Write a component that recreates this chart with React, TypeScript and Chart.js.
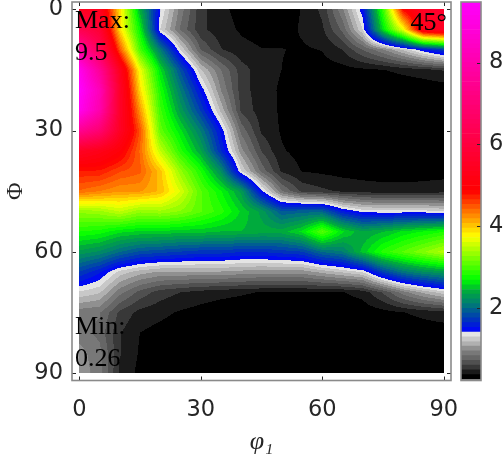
import React, { useEffect, useRef } from "react";
import { Chart, registerables } from "chart.js";

Chart.register(...registerables);

const phi1Nodes = [0, 5, 10, 15, 20, 25, 30, 35, 40, 45, 50, 55, 60, 65, 70, 75, 80, 85, 90];
const bigPhiNodes = [0, 5, 10, 15, 20, 25, 30, 35, 40, 45, 50, 55, 60, 65, 70, 75, 80, 85, 90];

const row00 = [5.4, 5.4, 3.9, 2.4, 1.42, 0.9, 0.53, 0.4, 0.34, 0.3, 0.32, 0.38, 0.52, 0.93, 1.5, 2.9, 4.85, 5.5, 5.7];
const row05 = [6.3, 5.8, 3.9, 2.7, 1.3, 0.82, 0.52, 0.42, 0.36, 0.33, 0.32, 0.39, 0.47, 0.75, 1.3, 2.6, 3.7, 5.3, 5.5];
const row10 = [7.8, 6.4, 4.5, 3.0, 2.1, 1.3, 0.72, 0.5, 0.41, 0.38, 0.38, 0.36, 0.38, 0.49, 0.72, 0.93, 1.2, 1.5, 1.75];
const row15 = [9.2, 7.6, 5.4, 3.7, 2.6, 1.85, 1.2, 0.84, 0.55, 0.42, 0.375, 0.33, 0.32, 0.33, 0.35, 0.37, 0.41, 0.45, 0.5];
const row20 = [9.5, 8.2, 5.6, 3.9, 2.8, 2.1, 1.5, 0.95, 0.55, 0.42, 0.36, 0.3, 0.28, 0.27, 0.27, 0.27, 0.27, 0.28, 0.3];
const row25 = [9.2, 8.0, 5.6, 4.2, 2.95, 2.3, 1.75, 1.15, 0.58, 0.43, 0.36, 0.28, 0.27, 0.27, 0.27, 0.27, 0.27, 0.27, 0.28];
const row30 = [7.5, 6.9, 5.5, 4.5, 3.1, 2.6, 2.1, 1.5, 0.8, 0.47, 0.36, 0.3, 0.28, 0.27, 0.27, 0.27, 0.27, 0.27, 0.28];
const row35 = [5.5, 5.3, 5.0, 4.4, 3.5, 2.85, 2.35, 1.65, 1.0, 0.6, 0.39, 0.33, 0.3, 0.28, 0.27, 0.27, 0.27, 0.28, 0.28];
const row40 = [4.75, 4.75, 4.55, 4.45, 4.0, 3.3, 2.8, 2.2, 1.3, 0.8, 0.47, 0.37, 0.35, 0.33, 0.32, 0.32, 0.32, 0.33, 0.33];
const row45 = [4.4, 4.3, 4.2, 4.2, 4.05, 3.6, 3.05, 2.7, 2.3, 1.45, 0.85, 0.58, 0.52, 0.47, 0.44, 0.42, 0.42, 0.42, 0.44];
const row50 = [3.3, 3.35, 3.5, 3.3, 3.35, 3.25, 3.05, 2.85, 2.55, 2.3, 1.9, 1.95, 1.95, 1.55, 1.38, 1.35, 1.35, 1.35, 1.3];
const row55 = [2.8, 2.75, 2.6, 2.55, 2.55, 2.5, 2.5, 2.45, 2.45, 2.4, 2.4, 2.6, 3.05, 2.6, 2.35, 2.45, 2.6, 2.7, 2.8];
const row60 = [2.3, 2.2, 2.0, 1.85, 1.8, 1.75, 1.7, 1.7, 1.65, 1.65, 1.7, 1.75, 2.0, 2.1, 2.5, 2.85, 3.05, 3.25, 3.45];
const row65 = [1.75, 1.55, 1.25, 1.12, 1.05, 1.05, 1.05, 1.05, 1.02, 1.0, 1.0, 1.0, 1.1, 1.2, 1.3, 1.75, 2.05, 2.2, 2.3];
const row70 = [1.28, 1.2, 0.88, 0.68, 0.55, 0.49, 0.44, 0.41, 0.39, 0.37, 0.36, 0.365, 0.37, 0.37, 0.42, 0.62, 0.9, 1.1, 1.25];
const row75 = [0.88, 0.85, 0.58, 0.45, 0.41, 0.36, 0.33, 0.31, 0.3, 0.29, 0.28, 0.28, 0.28, 0.29, 0.3, 0.33, 0.37, 0.41, 0.45];
const row80 = [0.9, 0.8, 0.5, 0.375, 0.33, 0.3, 0.29, 0.28, 0.28, 0.27, 0.27, 0.27, 0.27, 0.27, 0.27, 0.28, 0.29, 0.3, 0.3];
const row85 = [1.0, 0.88, 0.5, 0.36, 0.3, 0.28, 0.27, 0.27, 0.27, 0.27, 0.27, 0.27, 0.27, 0.27, 0.27, 0.27, 0.27, 0.27, 0.27];
const row90 = [1.02, 0.9, 0.47, 0.34, 0.29, 0.27, 0.27, 0.27, 0.26, 0.26, 0.26, 0.26, 0.26, 0.26, 0.26, 0.26, 0.26, 0.26, 0.26];
const odfRows = [row00, row05, row10, row15, row20, row25, row30, row35, row40, row45, row50, row55, row60, row65, row70, row75, row80, row85, row90];

const axisTicks = [0, 30, 60, 90];
const barTicks = [2, 4, 6, 8];
const minValue = 0.26;
const maxValue = 9.5;
const bandCount = 80;
const grayShades = [0, 26, 56, 80, 102, 120, 144, 176, 200, 228];
const colorStops: [number, number, number, number][] = [
  [1.415, 0, 0, 255],
  [1.7, 0, 50, 190],
  [2.07, 0, 120, 120],
  [2.4, 0, 170, 60],
  [2.7, 0, 255, 0],
  [3.75, 255, 255, 0],
  [4.85, 255, 0, 0],
  [9.5, 255, 0, 255],
];
const annotations: [string, number, number, CanvasTextAlign][] = [
  ["Max:", 75, 28, "left"],
  ["9.5", 75, 60, "left"],
  ["Min:", 75, 334, "left"],
  ["0.26", 75, 366, "left"],
  ["45°", 447, 30, "right"],
];

const TEXT = "#262626";
const BOX = "#8a8a8a";
const SANS = '"DejaVu Sans", sans-serif';
const SERIF = '"Liberation Serif", "DejaVu Serif", serif';

const step = (maxValue - minValue) / bandCount;

function bandRgb(i: number): [number, number, number] {
  if (i < grayShades.length) {
    const g = grayShades[i];
    return [g, g, g];
  }
  const v = minValue + step * (i + 0.5);
  for (let k = 1; k < colorStops.length; k++) {
    const a = colorStops[k - 1];
    const b = colorStops[k];
    if (v <= b[0]) {
      const t = Math.max(0, (v - a[0]) / (b[0] - a[0]));
      return [a[1] + (b[1] - a[1]) * t, a[2] + (b[2] - a[2]) * t, a[3] + (b[3] - a[3]) * t];
    }
  }
  return [255, 0, 255];
}

function lookup(phi1: number, phi: number) {
  const gx = Math.min(phi1Nodes.length - 1.001, Math.max(0, phi1 / 5));
  const gy = Math.min(bigPhiNodes.length - 1.001, Math.max(0, phi / 5));
  const ix = Math.floor(gx);
  const iy = Math.floor(gy);
  const fx = gx - ix;
  const fy = gy - iy;
  return (
    odfRows[iy][ix] * (1 - fx) * (1 - fy) +
    odfRows[iy][ix + 1] * fx * (1 - fy) +
    odfRows[iy + 1][ix] * (1 - fx) * fy +
    odfRows[iy + 1][ix + 1] * fx * fy
  );
}

const contourPlugin = {
  id: "odfContour",
  beforeDatasetsDraw(chart: any) {
    const { ctx, scales } = chart;
    const x = scales.x;
    const y = scales.y;
    const x0 = x.getPixelForValue(0);
    const x1 = x.getPixelForValue(90);
    const y0 = y.getPixelForValue(0);
    const y1 = y.getPixelForValue(90);
    const ss = 2;
    const w = Math.round((x1 - x0) * ss);
    const h = Math.round((y1 - y0) * ss);
    const off = document.createElement("canvas");
    off.width = w;
    off.height = h;
    const octx = off.getContext("2d")!;
    const img = octx.createImageData(w, h);
    for (let j = 0; j < h; j++) {
      const phi = y.getValueForPixel(y0 + (j + 0.5) / ss);
      for (let i = 0; i < w; i++) {
        const phi1 = x.getValueForPixel(x0 + (i + 0.5) / ss);
        const v = lookup(phi1, phi);
        const band = Math.max(0, Math.min(bandCount - 1, Math.floor((v - minValue) / step)));
        const c = bandRgb(band);
        const p = (j * w + i) * 4;
        img.data[p] = c[0];
        img.data[p + 1] = c[1];
        img.data[p + 2] = c[2];
        img.data[p + 3] = 255;
      }
    }
    octx.putImageData(img, 0, 0);
    ctx.save();
    ctx.imageSmoothingEnabled = true;
    ctx.drawImage(off, x0, y0, x1 - x0, y1 - y0);
    ctx.restore();
  },
  afterDraw(chart: any) {
    const { ctx, chartArea: a, scales } = chart;
    ctx.save();
    ctx.strokeStyle = TEXT;
    ctx.lineWidth = 1;
    ctx.beginPath();
    for (const t of axisTicks) {
      const px = Math.round(scales.x.getPixelForValue(t)) + 0.5;
      ctx.moveTo(px, a.top);
      ctx.lineTo(px, a.top + 4);
      ctx.moveTo(px, a.bottom);
      ctx.lineTo(px, a.bottom - 4);
      const py = Math.round(scales.y.getPixelForValue(t)) + 0.5;
      ctx.moveTo(a.left, py);
      ctx.lineTo(a.left + 4, py);
      ctx.moveTo(a.right, py);
      ctx.lineTo(a.right - 4, py);
    }
    ctx.stroke();
    ctx.strokeStyle = BOX;
    ctx.lineWidth = 1.6;
    ctx.strokeRect(a.left, a.top, a.right - a.left, a.bottom - a.top);
    ctx.fillStyle = "#000";
    ctx.font = `26px ${SERIF}`;
    ctx.textBaseline = "alphabetic";
    for (const [s, px, py, al] of annotations) {
      ctx.textAlign = al;
      ctx.fillText(s, px, py);
    }
    ctx.restore();
  },
};

const barBoxPlugin = {
  id: "barBox",
  afterDraw(chart: any) {
    const { ctx, chartArea: a, scales } = chart;
    ctx.save();
    ctx.strokeStyle = TEXT;
    ctx.lineWidth = 1;
    ctx.beginPath();
    for (const t of barTicks) {
      const py = Math.round(scales.y.getPixelForValue(t)) + 0.5;
      ctx.moveTo(a.right, py);
      ctx.lineTo(a.right - 4, py);
    }
    ctx.stroke();
    ctx.strokeStyle = BOX;
    ctx.lineWidth = 1.6;
    ctx.strokeRect(a.left, a.top, a.right - a.left, a.bottom - a.top);
    ctx.restore();
  },
};

const noOverhang = (s: any) => {
  s.paddingTop = 0;
  s.paddingBottom = 0;
  s.paddingLeft = 0;
  s.paddingRight = 0;
};

export default function App() {
  const mainRef = useRef<HTMLCanvasElement>(null);
  const barRef = useRef<HTMLCanvasElement>(null);

  useEffect(() => {
    const points: { x: number; y: number; v: number }[] = [];
    bigPhiNodes.forEach((phi, j) =>
      phi1Nodes.forEach((phi1, i) => points.push({ x: phi1, y: phi, v: odfRows[j][i] }))
    );
    const main = new Chart(mainRef.current!, {
      type: "scatter",
      data: { datasets: [{ label: "ODF", data: points, pointRadius: 0, showLine: false }] },
      plugins: [contourPlugin],
      options: {
        responsive: false,
        animation: false,
        layout: { padding: { top: 2, right: 53, left: 0, bottom: 0 } },
        plugins: { legend: { display: false }, tooltip: { enabled: false } },
        scales: {
          x: {
            type: "linear",
            min: -1.8,
            max: 91.8,
            afterBuildTicks: (s: any) => {
              s.ticks = axisTicks.map((value) => ({ value }));
            },
            afterFit: (s: any) => {
              s.height = 74.5;
              noOverhang(s);
            },
            grid: { display: false, drawTicks: false },
            border: { display: false },
            ticks: { color: TEXT, font: { family: SANS, size: 22.5 }, padding: 16, maxRotation: 0, autoSkip: false },
            title: {
              display: true,
              text: "φ₁",
              color: TEXT,
              font: { family: SERIF, size: 26, style: "italic" },
              padding: { top: 8, bottom: -3 },
            },
          },
          y: {
            type: "linear",
            reverse: true,
            min: -1.8,
            max: 91.8,
            afterBuildTicks: (s: any) => {
              s.ticks = axisTicks.map((value) => ({ value }));
            },
            afterFit: (s: any) => {
              s.width = 72;
              noOverhang(s);
            },
            grid: { display: false, drawTicks: false },
            border: { display: false },
            ticks: { color: TEXT, font: { family: SANS, size: 22.5 }, padding: 9, autoSkip: false },
            title: {
              display: true,
              text: "Φ",
              color: TEXT,
              font: { family: SERIF, size: 24 },
              padding: { top: 1, bottom: 0 },
            },
          },
        },
      },
    } as any);

    const bandDatasets = Array.from({ length: bandCount }, (_, i) => {
      const c = bandRgb(i);
      return {
        label: `band ${i}`,
        data: [[minValue + step * i, minValue + step * (i + 1)]],
        backgroundColor: `rgb(${c[0]},${c[1]},${c[2]})`,
        borderWidth: 0,
        barPercentage: 1,
        categoryPercentage: 1,
      };
    });
    const bar = new Chart(barRef.current!, {
      type: "bar",
      data: { labels: ["scale"], datasets: bandDatasets },
      plugins: [barBoxPlugin],
      options: {
        responsive: false,
        animation: false,
        layout: { padding: { top: 2, right: 0, left: 461, bottom: 74.5 } },
        plugins: { legend: { display: false }, tooltip: { enabled: false } },
        scales: {
          x: { display: false, stacked: true },
          y: {
            position: "right",
            min: minValue - 0.03,
            max: maxValue - 0.02,
            afterBuildTicks: (s: any) => {
              s.ticks = barTicks.map((value) => ({ value }));
            },
            afterFit: (s: any) => {
              s.width = 23;
              noOverhang(s);
            },
            grid: { display: false, drawTicks: false },
            border: { display: false },
            ticks: { color: TEXT, font: { family: SANS, size: 22.5 }, padding: 8, autoSkip: false },
          },
        },
      },
    } as any);

    return () => {
      main.destroy();
      bar.destroy();
    };
  }, []);

  return (
    <div style={{ position: "fixed", left: 0, top: 0, width: 504, height: 455, background: "#fff" }}>
      <canvas ref={mainRef} width={504} height={455} style={{ position: "absolute", left: 0, top: 0 }} />
      <canvas ref={barRef} width={504} height={455} style={{ position: "absolute", left: 0, top: 0 }} />
    </div>
  );
}
